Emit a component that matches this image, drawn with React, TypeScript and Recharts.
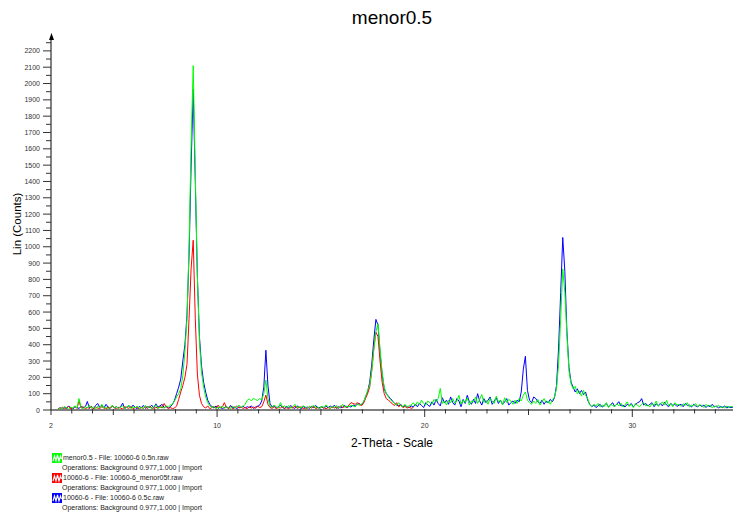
import { Line, LineChart, XAxis, YAxis } from "recharts";

// scan grid: 2-theta starts at 2.35 deg, step 0.1 deg
const scanStart = 2.35;
const scanStep = 0.1;

// menor0.5 - File: 10060-6 0.5n.raw (green), one row per degree
const green = [
  5, 12, 8, 20, 14, 6, 18, 10, 25, 12,
  70, 15, 8, 22, 12, 30, 10, 18, 6, 24,
  14, 35, 10, 20, 8, 16, 28, 12, 22, 9,
  18, 26, 11, 15, 30, 8, 20, 13, 24, 10,
  16, 9, 28, 14, 20, 7, 18, 32, 12, 15,
  22, 10, 25, 18, 30, 35, 55, 80, 100, 130,
  210, 360, 560, 1000, 1640, 2110, 1450, 820, 420, 230,
  140, 80, 45, 25, 15, 22, 8, 18, 12, 25,
  10, 20, 14, 8, 24, 12, 18, 30, 15, 22,
  35, 60, 68, 55, 72, 64, 58, 70, 62, 100,
  183, 70, 25, 15, 30, 20, 12, 45, 18, 25,
  14, 28, 10, 22, 35, 15, 20, 12, 26, 18,
  9, 24, 16, 30, 12, 20, 8, 25, 14, 32,
  18, 10, 22, 15, 28, 12, 20, 35, 16, 24,
  20, 30, 25, 18, 40, 28, 35, 50, 80, 120,
  150, 240, 370, 480, 528, 370, 230, 140, 100, 80,
  65, 50, 40, 30, 45, 25, 20, 35, 15, 28,
  30, 45, 25, 50, 35, 60, 40, 30, 55, 45,
  35, 65, 50, 70, 132, 40, 55, 30, 60, 45,
  70, 40, 55, 90, 35, 60, 45, 75, 30, 55,
  50, 80, 40, 65, 95, 45, 60, 35, 70, 55,
  40, 85, 50, 60, 30, 75, 45, 65, 55, 35,
  60, 40, 70, 55, 90, 110, 60, 45, 35, 55,
  40, 65, 30, 50, 70, 45, 55, 35, 60, 80,
  130, 280, 560, 864, 720, 460, 240, 160, 130, 145,
  100, 115, 85, 120, 90, 70, 30, 20, 35, 25,
  40, 18, 30, 22, 45, 15, 35, 28, 20, 38,
  25, 42, 18, 30, 50, 22, 35, 15, 40, 28,
  20, 35, 45, 25, 30, 18, 40, 28, 55, 22,
  35, 50, 30, 60, 25, 40, 20, 45, 30, 35,
  22, 38, 28, 45, 18, 30, 25, 40, 20, 32,
  28, 15, 35, 22, 30, 12, 25, 18, 30, 15,
  20, 12, 25, 15, 22, 18,
];

// 10060-6 - File: 10060-6 0.5c.raw (blue)
const blue = [
  8, 15, 5, 18, 10, 25, 12, 6, 20, 14,
  10, 22, 15, 18, 52, 12, 20, 8, 28, 40,
  15, 30, 12, 35, 18, 10, 25, 14, 20, 12,
  20, 42, 10, 18, 25, 12, 30, 16, 8, 22,
  14, 28, 10, 20, 15, 30, 12, 38, 18, 25,
  35, 15, 22, 12, 20, 35, 60, 100, 140, 190,
  300, 400, 580, 950, 1500, 1965, 1400, 820, 450, 270,
  170, 110, 60, 35, 20, 12, 25, 10, 18, 8,
  15, 22, 10, 28, 12, 18, 8, 20, 14, 25,
  12, 20, 15, 25, 10, 18, 22, 30, 55, 140,
  366, 150, 40, 18, 25, 12, 20, 30, 15, 10,
  22, 12, 28, 15, 10, 25, 18, 8, 20, 14,
  18, 10, 22, 14, 28, 12, 16, 20, 10, 24,
  12, 25, 15, 30, 10, 20, 14, 18, 28, 15,
  22, 18, 30, 25, 35, 40, 30, 45, 80, 110,
  170, 280, 430, 555, 520, 350, 220, 130, 100, 85,
  70, 55, 40, 30, 25, 35, 18, 28, 20, 15,
  25, 18, 35, 20, 40, 28, 15, 45, 30, 22,
  50, 30, 65, 40, 25, 75, 45, 60, 35, 80,
  45, 30, 70, 55, 20, 65, 40, 90, 50, 35,
  65, 40, 100, 55, 30, 70, 45, 60, 80, 35,
  55, 75, 40, 60, 35, 50, 70, 30, 45, 55,
  40, 60, 50, 110, 250, 329, 120, 60, 45, 80,
  70, 50, 40, 60, 35, 55, 45, 65, 50, 75,
  150, 380, 720, 1057, 850, 480, 260, 170, 140, 110,
  130, 100, 120, 95, 110, 60, 35, 20, 30, 15,
  25, 35, 18, 28, 40, 20, 30, 45, 22, 35,
  51, 25, 30, 18, 35, 28, 40, 20, 32, 45,
  50, 70, 30, 40, 25, 35, 45, 20, 38, 28,
  40, 25, 48, 30, 20, 42, 28, 35, 22, 30,
  35, 20, 40, 28, 30, 18, 35, 25, 20, 30,
  22, 30, 15, 28, 20, 35, 18, 25, 12, 22,
  15, 25, 12, 20, 14, 18,
];

// 10060-6 - File: 10060-6_menor05f.raw (red), scan stops near 19.5 deg
const red = [
  10, 5, 18, 8, 14, 22, 6, 12, 25, 10,
  55, 12, 20, 8, 15, 10, 22, 6, 18, 12,
  8, 20, 12, 5, 18, 10, 25, 14, 8, 16,
  12, 6, 20, 15, 10, 22, 8, 14, 18, 6,
  15, 10, 20, 8, 25, 12, 6, 18, 10, 22,
  12, 40, 18, 10, 15, 8, 12, 25, 65, 110,
  150, 200, 280, 560, 870, 1040, 560, 220, 90, 40,
  20, 12, 25, 8, 15, 22, 10, 30, 12, 18,
  45, 15, 10, 20, 8, 14, 25, 12, 18, 10,
  15, 8, 20, 12, 18, 10, 25, 15, 20, 50,
  91, 35, 15, 10, 20, 8, 15, 12, 22, 10,
  14, 8, 18, 12, 25, 10, 15, 20, 8, 12,
  10, 18, 12, 22, 8, 15, 10, 20, 14, 8,
  15, 10, 20, 12, 18, 8, 25, 14, 22, 15,
  30, 45, 40, 35, 45, 38, 25, 40, 70, 100,
  140, 240, 380, 477, 450, 300, 170, 100, 70, 60,
  50, 35, 28, 45, 20, 30, 15, 22, 12, 18,
  10, 15,
];

const xLabels = [2, 10, 20, 30];
const xTicks = Array.from({ length: 33 }, (_, i) => 2 + i);
const yTicks = Array.from({ length: 46 }, (_, i) => i * 50);

const legendItems = [
  { color: "#00ff00", name: "menor0.5 - File: 10060-6 0.5n.raw" },
  { color: "#ff0000", name: "10060-6 - File: 10060-6_menor05f.raw" },
  { color: "#0000ff", name: "10060-6 - File: 10060-6 0.5c.raw" },
];
const operations = "Operations: Background 0.977,1.000 | Import";

const data = green.map((g, i) => ({
  t: +(scanStart + i * scanStep).toFixed(2),
  g,
  b: blue[i],
  r: i < red.length ? red[i] : null,
}));

const font = "'Liberation Sans', Arial, sans-serif";

function XTick(props: any) {
  const { x, y, payload } = props;
  const v = payload.value;
  const len = v % 10 === 0 ? 7 : v % 5 === 0 || v === 2 ? 5 : 3.5;
  return (
    <g>
      <line x1={x} x2={x} y1={y - 1} y2={y + len} stroke="#333" strokeWidth={1} />
      {xLabels.includes(v) && (
        <text x={x} y={y + 17.5} textAnchor="middle" fontSize={7} fill="#333" fontFamily={font}>
          {v}
        </text>
      )}
    </g>
  );
}

function YTick(props: any) {
  const { x, y, payload } = props;
  const v = payload.value;
  const major = v % 100 === 0;
  return (
    <g>
      <line x1={x - (major ? 8 : 5)} x2={x} y1={y} y2={y} stroke="#333" strokeWidth={1} />
      {major && (
        <text x={x - 11} y={y + 2.5} textAnchor="end" fontSize={7} fill="#333" fontFamily={font}>
          {v}
        </text>
      )}
    </g>
  );
}

function LegendIcon({ color }: { color: string }) {
  return (
    <svg width={10} height={10} style={{ display: "block" }}>
      <rect x={0} y={0} width={10} height={10} fill={color} />
      <polyline points="1,8 2.5,3 4,8 5.5,2 7,8 8.5,3 9.5,6" fill="none" stroke="#fff" strokeWidth={1.1} />
    </svg>
  );
}

export default function App() {
  return (
    <div style={{ position: "absolute", left: 0, top: 0, width: 733, height: 519, background: "#fff", fontFamily: font }}>
      <div style={{ position: "absolute", left: 51, width: 682, top: 7, textAlign: "center", fontSize: 19, color: "#000" }}>
        menor0.5
      </div>
      <LineChart width={733} height={519} data={data} margin={{ top: 37, right: 0, bottom: 0, left: 0 }}>
        <XAxis
          type="number"
          dataKey="t"
          domain={[2, 34.85]}
          allowDataOverflow
          ticks={xTicks}
          interval={0}
          tickLine={false}
          tickSize={0}
          tickMargin={0}
          tick={<XTick />}
          axisLine={{ stroke: "#808080", strokeWidth: 2 }}
          height={109}
        />
        <YAxis
          type="number"
          domain={[0, 2285]}
          allowDataOverflow
          ticks={yTicks}
          interval={0}
          tickLine={false}
          tickSize={0}
          tickMargin={0}
          tick={<YTick />}
          axisLine={{ stroke: "#808080", strokeWidth: 2 }}
          width={51}
        />
        <Line type="linear" dataKey="b" stroke="#0000ff" strokeWidth={1} dot={false} isAnimationActive={false} />
        <Line type="linear" dataKey="r" stroke="#ff0000" strokeWidth={1} dot={false} isAnimationActive={false} />
        <Line type="linear" dataKey="g" stroke="#00ff00" strokeWidth={1} dot={false} isAnimationActive={false} />
      </LineChart>
      <svg width={733} height={519} style={{ position: "absolute", left: 0, top: 0, pointerEvents: "none" }}>
        <polygon points="51.5,33 49,40 54,40" fill="#000" />
      </svg>
      <div
        style={{
          position: "absolute",
          left: 17,
          top: 224,
          transform: "translate(-50%, -50%) rotate(-90deg)",
          fontSize: 11.5,
          whiteSpace: "nowrap",
          color: "#000",
        }}
      >
        Lin (Counts)
      </div>
      <div style={{ position: "absolute", left: 51, width: 682, top: 436, textAlign: "center", fontSize: 12, color: "#000" }}>
        2-Theta - Scale
      </div>
      <div style={{ position: "absolute", left: 52, top: 453, fontSize: 7, lineHeight: "10px", color: "#222" }}>
        {legendItems.map((item) => (
          <div key={item.color}>
            <div style={{ display: "flex", alignItems: "center", height: 10 }}>
              <LegendIcon color={item.color} />
              <span style={{ marginLeft: 1 }}>{item.name}</span>
            </div>
            <div style={{ height: 10, paddingLeft: 10 }}>{operations}</div>
          </div>
        ))}
      </div>
    </div>
  );
}
